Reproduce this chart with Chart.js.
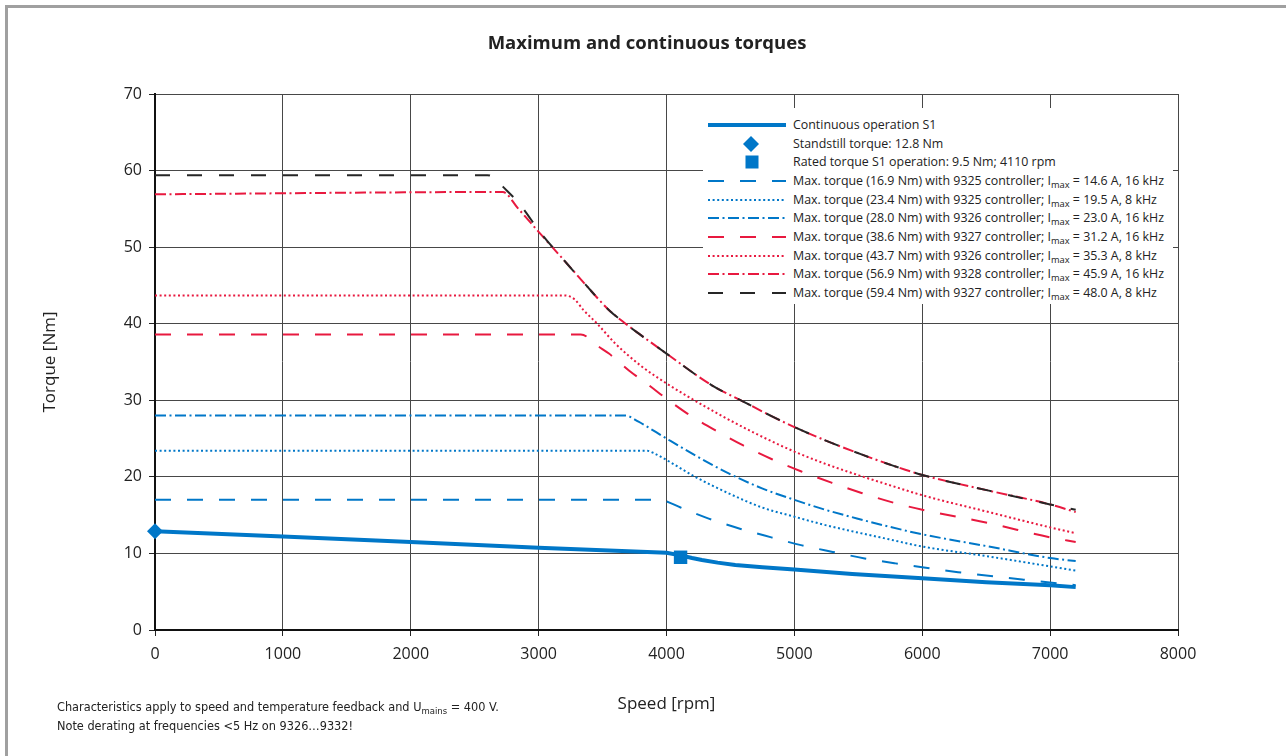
<!DOCTYPE html>
<html>
<head>
<meta charset="utf-8">
<script src="https://cdn.jsdelivr.net/npm/chart.js@4.4.1/dist/chart.umd.min.js"></script>
<style>
  html, body { margin: 0; padding: 0; background: #fff; }
  #wrap { position: relative; width: 1286px; height: 756px; overflow: hidden; }
  #frame { position: absolute; left: 5px; top: 5px; right: -10px; bottom: -10px;
           border-left: 3px solid #a0a0a0; border-top: 3px solid #a0a0a0; pointer-events: none; }
  #legend { position: absolute; left: 703px; top: 108px; width: 470px; height: 196px; background: #fff;
            font-family: "Open Sans", sans-serif; font-size: 12.4px; color: #222; }
  .row { position: absolute; left: 0; width: 100%; height: 18px; }
  .row svg { position: absolute; left: 5px; top: 0; }
  .row .t { position: absolute; left: 90px; top: 0; line-height: 18px; white-space: nowrap; }
  sub { font-size: 0.75em; vertical-align: -0.3em; line-height: 0; }
  #note { position: absolute; left: 57px; top: 697px; font-family: "Liberation Sans Narrow", "DejaVu Sans Condensed", sans-serif;
          font-size: 12.6px; line-height: 19px; color: #222; white-space: nowrap; }
</style>
</head>
<body>
<div id="wrap">
  <canvas id="torqueChart" width="1286" height="756"></canvas>
  <div id="frame"></div>
  <div id="legend"></div>
  <div id="note">Characteristics apply to speed and temperature feedback and U<sub>mains</sub> = 400 V.<br>Note derating at frequencies &lt;5 Hz on 9326…9332!</div>
</div>
<script>
// Axes
const speedTicks = [0, 1000, 2000, 3000, 4000, 5000, 6000, 7000, 8000];
const torqueTicks = [0, 10, 20, 30, 40, 50, 60, 70];

// Continuous operation S1
const s1Speed  = [0, 1000, 2000, 3000, 4000, 4110, 4200, 4277, 4400, 4538, 4750, 5000, 5452, 6000, 6500, 7000, 7200];
const s1Torque = [12.9, 12.2, 11.5, 10.75, 10.1, 9.75, 9.4, 9.15, 8.8, 8.5, 8.2, 7.9, 7.3, 6.75, 6.25, 5.85, 5.6];

// Marker points
const standstillSpeed = [0];
const standstillTorque = [12.9];
const ratedSpeed = [4110];
const ratedTorque = [9.5];

// Max. torque curves
const m169Speed  = [0, 3960, 4000, 4110, 4330, 4580, 4820, 5060, 5300, 5550, 5790, 6000, 6280, 6780, 7200];
const m169Torque = [17.0, 17.0, 16.8, 16.0, 14.55, 13.2, 12.1, 11.05, 10.2, 9.35, 8.7, 8.2, 7.55, 6.6, 5.85];

const m234Speed  = [0, 3850, 3900, 4000, 4225, 4486, 4747, 5000, 5243, 5504, 5739, 6000, 6521, 7000, 7200];
const m234Torque = [23.4, 23.4, 23.1, 22.2, 20.0, 17.85, 16.0, 14.8, 13.7, 12.7, 11.85, 10.9, 9.6, 8.3, 7.75];

const m280Speed  = [0, 3680, 3781, 4000, 4225, 4486, 4747, 5000, 5243, 5504, 5739, 6000, 6521, 7000, 7200];
const m280Torque = [28.0, 28.0, 27.2, 25.0, 22.8, 20.45, 18.5, 17.0, 15.7, 14.5, 13.5, 12.5, 10.9, 9.4, 9.0];

const m386Speed  = [0, 3330, 3470, 3550, 3706, 3860, 4000, 4160, 4380, 4600, 4825, 5055, 5290, 5525, 5760, 6000, 6521, 7000, 7200];
const m386Torque = [38.6, 38.6, 37.0, 36.1, 33.9, 32.0, 30.2, 28.3, 26.1, 24.1, 22.3, 20.7, 19.24, 17.9, 16.7, 15.7, 13.95, 12.1, 11.5];

const m437Speed  = [0, 3200, 3280, 3350, 3458, 3600, 3800, 4000, 4146, 4407, 4668, 5000, 5243, 5504, 5739, 6000, 6521, 7000, 7200];
const m437Torque = [43.7, 43.7, 43.2, 41.8, 40.0, 37.4, 34.5, 32.2, 30.7, 28.2, 25.9, 23.3, 21.7, 20.2, 18.95, 17.6, 15.4, 13.4, 12.65];

const m569Speed  = [0, 2720, 2837, 3000, 3219, 3367, 3549, 3680, 3784, 4000, 4355, 4616, 4825, 5000, 5295, 5530, 5765, 6000, 6521, 7000, 7200];
const m569Torque = [56.9, 57.2, 55.1, 52.0, 47.9, 45.1, 41.8, 40.0, 38.7, 36.1, 31.95, 29.7, 27.9, 26.5, 24.4, 22.9, 21.5, 20.25, 18.2, 16.4, 15.4];

const m594Speed  = [0, 2600, 2650, 2720, 2815, 2885, 3000, 3219, 3367, 3549, 3680, 3784, 4000, 4355, 4616, 4825, 5000, 5295, 5530, 5765, 6000, 6521, 7000, 7200];
const m594Torque = [59.4, 59.4, 59.1, 57.9, 56.3, 54.9, 52.2, 47.9, 45.1, 41.8, 40.0, 38.7, 36.1, 31.95, 29.7, 27.9, 26.5, 24.4, 22.9, 21.5, 20.25, 18.2, 16.4, 15.7];

const BLUE = '#0077c8';
const RED = '#e8193f';
const BLACK = '#262626';
const DASH = [16, 16];
const DOT = [2, 2.6];
const DASHDOT = [11, 3.5, 2, 3.5];

const pts = (xs, ys) => xs.map((x, i) => ({ x: x, y: ys[i] }));

function curve(label, xs, ys, color, dash, width, smooth) {
    return {
        label: label,
        data: pts(xs, ys),
        borderColor: color,
        backgroundColor: color,
        borderWidth: width || 2,
        borderDash: dash || [],
        borderJoinStyle: 'round',
        cubicInterpolationMode: smooth === false ? 'default' : 'monotone',
        tension: 0,
        pointRadius: 0,
        fill: false
    };
}

function marker(label, xs, ys, style, radius) {
    return {
        label: label,
        data: pts(xs, ys),
        showLine: false,
        pointStyle: style,
        pointRadius: radius,
        backgroundColor: BLUE,
        borderColor: BLUE,
        pointBorderWidth: 0,
        clip: false
    };
}

const blackCurve = curve('Max. torque (59.4 Nm) with 9327 controller; I_max = 48.0 A, 8 kHz', m594Speed, m594Torque, BLACK, [15, 17]);
blackCurve.order = -1; // black dashes sit on top of the red dash-dot where they overlap

const datasets = [
    curve('Continuous operation S1', s1Speed, s1Torque, BLUE, [], 4, false),
    marker('Standstill torque: 12.8 Nm', standstillSpeed, standstillTorque, 'rectRot', 8),
    marker('Rated torque S1 operation: 9.5 Nm; 4110 rpm', ratedSpeed, ratedTorque, 'rect', 9.5),
    curve('Max. torque (16.9 Nm) with 9325 controller; I_max = 14.6 A, 16 kHz', m169Speed, m169Torque, BLUE, DASH),
    curve('Max. torque (23.4 Nm) with 9325 controller; I_max = 19.5 A, 8 kHz', m234Speed, m234Torque, BLUE, DOT),
    curve('Max. torque (28.0 Nm) with 9326 controller; I_max = 23.0 A, 16 kHz', m280Speed, m280Torque, BLUE, DASHDOT),
    curve('Max. torque (38.6 Nm) with 9327 controller; I_max = 31.2 A, 16 kHz', m386Speed, m386Torque, RED, DASH),
    curve('Max. torque (43.7 Nm) with 9326 controller; I_max = 35.3 A, 8 kHz', m437Speed, m437Torque, RED, DOT),
    curve('Max. torque (56.9 Nm) with 9328 controller; I_max = 45.9 A, 16 kHz', m569Speed, m569Torque, RED, DASHDOT),
    blackCurve
];

Chart.defaults.font.family = '"Open Sans", sans-serif';
Chart.defaults.color = '#222';

const gridOpts = { color: '#474747', lineWidth: 1, tickLength: 6, tickColor: '#222', drawTicks: true };

const chart = new Chart(document.getElementById('torqueChart'), {
    type: 'line',
    data: { datasets: datasets },
    options: {
        responsive: false,
        animation: false,
        events: [],
        layout: { padding: { left: 8, right: 0, top: 0, bottom: 0 } },
        plugins: {
            legend: { display: false },
            tooltip: { enabled: false },
            title: {
                display: true,
                text: 'Maximum and continuous torques',
                font: { size: 18.5, weight: 'bold' },
                color: '#222',
                padding: { top: 33, bottom: 38.8 }
            }
        },
        scales: {
            x: {
                type: 'linear', min: 0, max: 8000,
                afterBuildTicks: s => { s.ticks = speedTicks.map(v => ({ value: v })); },
                afterFit: s => { s.height = 126; },
                ticks: { font: { size: 16 }, padding: 9, maxRotation: 0, callback: v => String(v) },
                grid: gridOpts,
                border: { color: '#111', width: 2 },
                title: { display: true, text: 'Speed [rpm]', font: { size: 17 }, padding: { top: 0, bottom: 42 } }
            },
            y: {
                type: 'linear', min: 0, max: 70,
                afterBuildTicks: s => { s.ticks = torqueTicks.map(v => ({ value: v })); },
                afterFit: s => { s.width = 147; },
                ticks: { font: { size: 16 }, padding: 7, callback: v => String(v) },
                grid: gridOpts,
                border: { color: '#111', width: 2 },
                title: { display: true, text: 'Torque [Nm]', font: { size: 17 }, padding: { top: 32, bottom: 0 } }
            },
            // empty right margin so the title centres on the whole page
            yRight: {
                type: 'linear', position: 'right', min: 0, max: 70,
                afterFit: s => { s.width = 108; },
                ticks: { display: false },
                grid: { display: false, drawOnChartArea: false },
                border: { display: false },
                title: { display: false }
            }
        }
    }
});

// Legend with subscripts, built from the datasets
(function buildLegend() {
    const box = document.getElementById('legend');
    chart.data.datasets.forEach((ds, i) => {
        const row = document.createElement('div');
        row.className = 'row';
        row.style.top = (8 + i * 18.65) + 'px';
        let sw;
        if (ds.showLine === false && ds.pointStyle === 'rectRot') {
            sw = `<polygon points="43,1 51,9 43,17 35,9" fill="${ds.backgroundColor}"/>`;
        } else if (ds.showLine === false) {
            sw = `<rect x="37.5" y="2.5" width="13" height="13" fill="${ds.backgroundColor}"/>`;
        } else {
            sw = `<line x1="0" y1="9" x2="78" y2="9" stroke="${ds.borderColor}" stroke-width="${ds.borderWidth}" stroke-dasharray="${ds.borderDash.join(' ') || 'none'}"/>`;
        }
        const text = ds.label.replace(/_(\w+)/, '<sub>$1</sub>');
        row.innerHTML = `<svg width="80" height="18">${sw}</svg><span class="t">${text}</span>`;
        box.appendChild(row);
    });
})();
</script>
</body>
</html>
